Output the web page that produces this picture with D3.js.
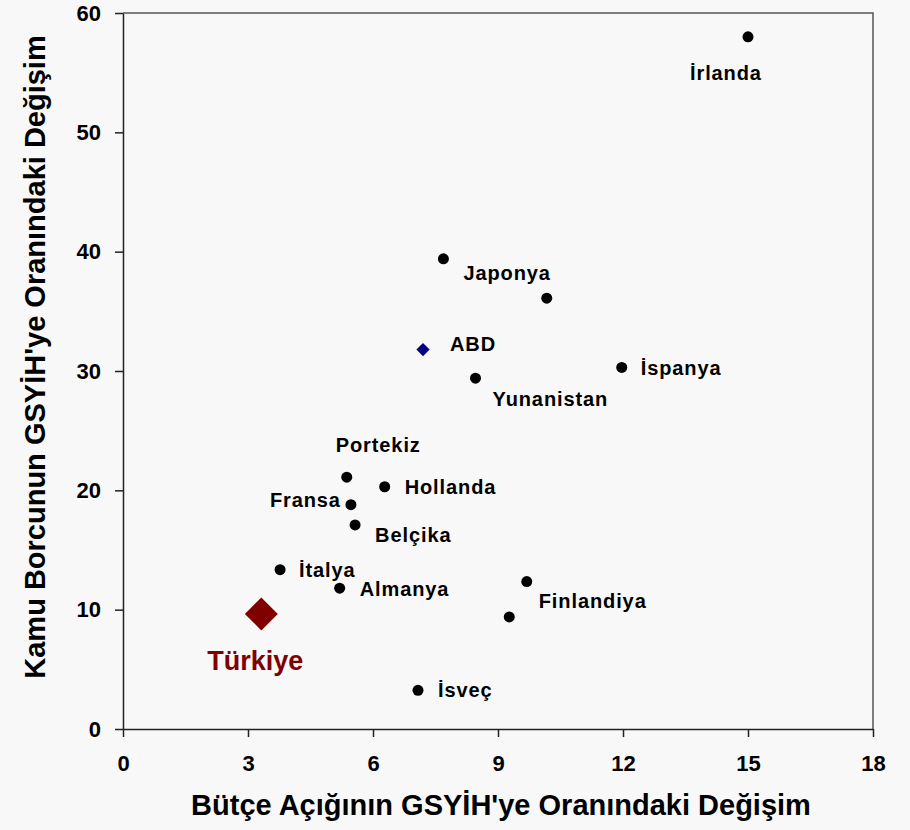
<!DOCTYPE html>
<html>
<head>
<meta charset="utf-8">
<script src="https://cdn.jsdelivr.net/npm/d3@7"></script>
<style>
    body { margin: 0; background: #f8f8f8; }
    svg { display: block; font-family: "Liberation Sans", Arial, sans-serif; font-weight: bold; }
    .axis path, .axis line { stroke: #222; stroke-width: 1.5; }
    .axis text { font-size: 22px; font-weight: bold; fill: #000; }
</style>
</head>
<body>
<div id="chart"></div>
<script>
// ---------------------------------------------------------------------------- //
//                                     Data                                     //
// ---------------------------------------------------------------------------- //
var countries = ['İrlanda', 'Japonya', '', 'ABD', 'İspanya', 'Yunanistan', 'Portekiz', 'Hollanda',
                 'Fransa', 'Belçika', 'İtalya', 'Almanya', 'Türkiye', 'İsveç', 'Finlandiya', ''];
// change in budget deficit / GDP
var deficitChange = [15.0, 7.69, 10.17, 7.20, 11.97, 8.46, 5.37, 6.28,
                     5.47, 5.57, 3.77, 5.20, 3.32, 7.08, 9.69, 9.27];
// change in public debt / GDP
var debtChange = [58.0, 39.4, 36.1, 31.8, 30.3, 29.4, 21.1, 20.3,
                  18.8, 17.1, 13.35, 11.8, 9.64, 3.24, 12.35, 9.39];
// marker kind: dot, usa, tr
var markerKind = ['dot', 'dot', 'dot', 'usa', 'dot', 'dot', 'dot', 'dot',
                  'dot', 'dot', 'dot', 'dot', 'tr', 'dot', 'dot', 'dot'];

var xTicks = [0, 3, 6, 9, 12, 15, 18];
var yTicks = [0, 10, 20, 30, 40, 50, 60];

var xTitle = "Bütçe Açığının GSYİH'ye Oranındaki Değişim";
var yTitle = "Kamu Borcunun GSYİH'ye Oranındaki Değişim";

// ---------------------------------------------------------------------------- //
//                                    Layout                                    //
// ---------------------------------------------------------------------------- //
var WIDTH = 910, HEIGHT = 830;
var margin = {top: 13, right: 37, bottom: 101, left: 123};
var width = WIDTH - margin.left - margin.right;
var height = HEIGHT - margin.top - margin.bottom;

// label offsets from the marker (px), [dx, dy]
var labelOffset = [[-58, 43], [20, 21], [0, 0], [27, 1], [19, 8], [17, 28], [-11, -25], [20, 7],
                   [-81, 2], [20, 17], [19, 7], [20, 8], [-54, 56], [20, 7], [12, 26], [0, 0]];

var svg = d3.select("#chart")
    .append("svg")
    .attr("width", WIDTH)
    .attr("height", HEIGHT);

svg.append("rect")
    .attr("width", WIDTH)
    .attr("height", HEIGHT)
    .attr("fill", "#f8f8f8");

var g = svg.append("g")
    .attr("transform", "translate(" + margin.left + "," + margin.top + ")");

var x = d3.scaleLinear().domain([0, 18]).range([0, width]);
var y = d3.scaleLinear().domain([0, 60]).range([height, 0]);

// Frame (top / right)
//_______________
g.append("path")
    .attr("d", "M0,0H" + width + "V" + height)
    .attr("fill", "none")
    .attr("stroke", "#555")
    .attr("stroke-width", 1.5);

// X Axis
//_______________
g.append("g")
    .attr("class", "axis")
    .attr("transform", "translate(0," + height + ")")
    .call(d3.axisBottom(x).tickValues(xTicks).tickSizeInner(8).tickSizeOuter(0).tickPadding(18));

// Y Axis
//_______________
g.append("g")
    .attr("class", "axis")
    .call(d3.axisLeft(y).tickValues(yTicks).tickSizeInner(8).tickSizeOuter(0).tickPadding(14));

// Axis titles
//_______________
svg.append("text")
    .attr("x", margin.left + width / 2 + 3)
    .attr("y", 815)
    .attr("text-anchor", "middle")
    .style("font-size", "29px")
    .text(xTitle);

svg.append("text")
    .attr("transform", "translate(45," + 357 + ") rotate(-90)")
    .attr("text-anchor", "middle")
    .style("font-size", "29px")
    .text(yTitle);

// Markers
//_______________
var idx = d3.range(countries.length);

g.selectAll(".dot")
    .data(idx.filter(function(i) { return markerKind[i] == 'dot'; }))
    .enter().append("circle")
    .attr("class", "dot")
    .attr("cx", function(i) { return x(deficitChange[i]); })
    .attr("cy", function(i) { return y(debtChange[i]); })
    .attr("r", 5.5)
    .attr("fill", "#000");

g.selectAll(".diamond")
    .data(idx.filter(function(i) { return markerKind[i] != 'dot'; }))
    .enter().append("path")
    .attr("class", "diamond")
    .attr("transform", function(i) {
        return "translate(" + x(deficitChange[i]) + "," + y(debtChange[i]) + ") rotate(45)";
    })
    .attr("d", function(i) {
        return d3.symbol().type(d3.symbolSquare).size(markerKind[i] == 'tr' ? 544 : 88)();
    })
    .attr("fill", function(i) { return markerKind[i] == 'tr' ? "#800000" : "#000080"; });

// Labels
//_______________
g.selectAll(".lbl")
    .data(idx.filter(function(i) { return countries[i] != ''; }))
    .enter().append("text")
    .attr("class", "lbl")
    .attr("x", function(i) { return x(deficitChange[i]) + labelOffset[i][0]; })
    .attr("y", function(i) { return y(debtChange[i]) + labelOffset[i][1]; })
    .style("font-size", function(i) { return markerKind[i] == 'tr' ? "27px" : "20px"; })
    .style("letter-spacing", function(i) { return markerKind[i] == 'tr' ? "0px" : "0.9px"; })
    .attr("fill", function(i) { return markerKind[i] == 'tr' ? "#800000" : "#000"; })
    .text(function(i) { return countries[i]; });
</script>
</body>
</html>
